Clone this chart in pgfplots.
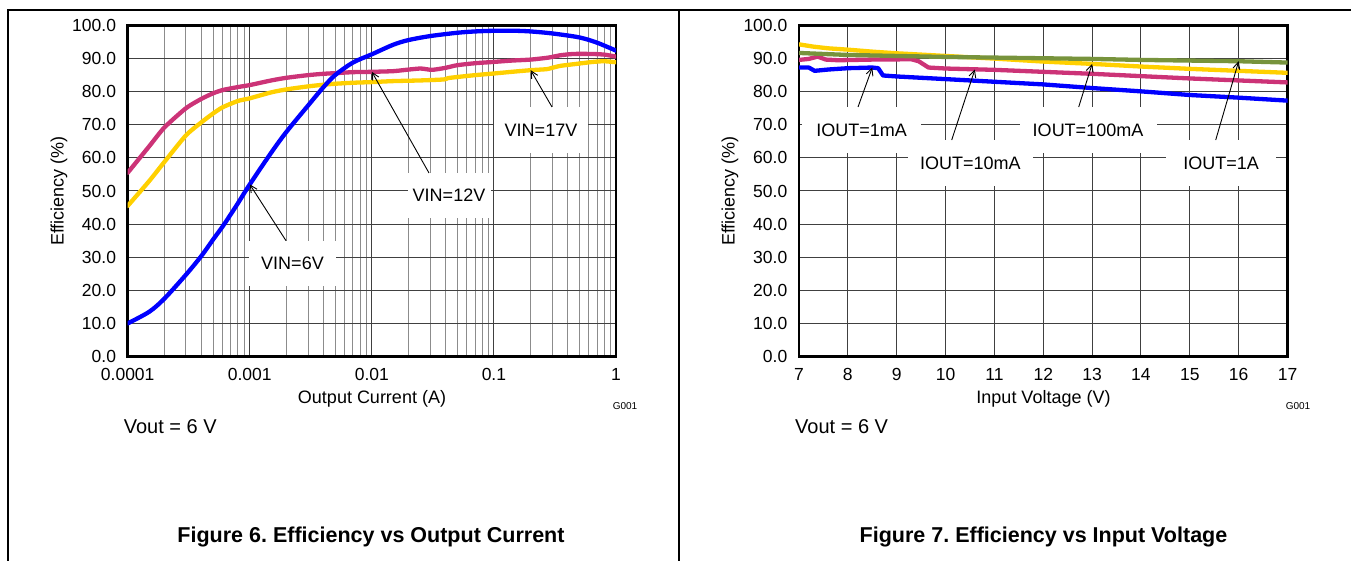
\documentclass[border=0pt]{standalone}
\usepackage{pgfplots}
\pgfplotsset{compat=1.18}
\usepackage{fontspec}
\setmainfont{Liberation Sans}
\usetikzlibrary{arrows.meta}
\frenchspacing

\definecolor{vblue}{RGB}{0,0,255}
\definecolor{vmag}{RGB}{204,51,119}
\definecolor{vyel}{RGB}{255,208,0}
\definecolor{vgrn}{RGB}{119,147,60}
\definecolor{gmaj}{RGB}{64,64,64}
\definecolor{gmin}{RGB}{140,140,140}

\newcommand{\lblfont}{\fontsize{18}{21}\selectfont}
\newcommand{\tckfont}{\fontsize{17.5}{20}\selectfont}

\pgfplotsset{
  eff/.style={
    scale only axis, anchor=south west,
    height=331pt,
    ymin=0, ymax=100, ytick={0,10,...,100},
    grid=both,
    major grid style={draw=gmaj, line width=1pt},
    minor grid style={draw=gmin, line width=1pt},
    axis line style={line width=2.6pt},
    major tick length=0pt, minor tick length=0pt,
    tick label style={font=\tckfont},
    /pgf/number format/assume math mode=true,
    yticklabel style={/pgf/number format/fixed, /pgf/number format/fixed zerofill,
      /pgf/number format/precision=1, anchor=east, inner sep=0pt, xshift=-11.5pt},
    xticklabel style={anchor=center, inner sep=0pt, text height=12.5pt,
      text depth=0pt, yshift=-17.5pt},
  },
  curve/.style={line width=4.3pt, line join=round, line cap=round},
}
\tikzset{
  note/.style={fill=white, inner sep=0pt, font=\lblfont},
  pointer/.style={line width=0.9pt, -{Straight Barb[length=7pt,width=7pt]}},
}

\begin{document}
\begin{tikzpicture}[x=1pt,y=1pt]
\useasboundingbox (0,0) rectangle (1351,561);

% ---------- Efficiency vs output current ----------
\begin{axis}[eff, at={(127.7pt,204.5pt)}, width=488.3pt,
  xmode=log, xmin=1e-4, xmax=1,
  xtick={1e-4,1e-3,1e-2,1e-1,1}, xticklabels={0.0001,0.001,0.01,0.1,1},
  minor xtick={2e-4,3e-4,4e-4,5e-4,6e-4,7e-4,8e-4,9e-4,
               2e-3,3e-3,4e-3,5e-3,6e-3,7e-3,8e-3,9e-3,
               2e-2,3e-2,4e-2,5e-2,6e-2,7e-2,8e-2,9e-2,
               0.2,0.3,0.4,0.5,0.6,0.7,0.8,0.9}]
% VIN = 12 V
\addplot[curve, vmag, smooth, tension=0.4] table {
1e-4 55.5
1.5e-4 63.5
2e-4 69.2
3e-4 75.0
4e-4 77.8
5e-4 79.5
6e-4 80.5
8e-4 81.4
1e-3 82.0
1.5e-3 83.4
2e-3 84.2
3e-3 85.0
4e-3 85.4
5e-3 85.6
7e-3 85.9
1e-2 86.0
1.5e-2 86.2
1.8e-2 86.5
2.5e-2 87.0
3.1e-2 86.6
4e-2 87.2
5e-2 88.0
7e-2 88.6
0.1 89.0
0.14 89.4
0.2 89.7
0.28 90.3
0.35 91.0
0.45 91.4
0.63 91.4
0.8 91.2
1 90.6
};
% VIN = 17 V
\addplot[curve, vyel, smooth, tension=0.4] table {
1e-4 45.5
1.5e-4 53.0
2e-4 58.8
3e-4 66.8
4e-4 70.7
5e-4 73.4
6e-4 75.3
8e-4 77.2
1e-3 78.0
1.5e-3 79.8
2e-3 80.7
3e-3 81.6
4e-3 82.1
5e-3 82.4
7e-3 82.7
1e-2 82.9
1.5e-2 83.2
2.5e-2 83.4
3.9e-2 83.7
4.2e-2 84.1
5.2e-2 84.5
7e-2 85.0
0.1 85.5
0.14 86.0
0.2 86.5
0.27 86.8
0.3 87.2
0.35 87.8
0.45 88.3
0.65 89.0
0.8 89.2
1 88.9
};
% VIN = 6 V
\addplot[curve, vblue, smooth, tension=0.5] table {
1e-4 10.0
1.5e-4 13.5
2e-4 17.5
3e-4 24.7
4e-4 30.3
5e-4 35.3
6e-4 39.3
7e-4 43.0
8e-4 46.3
1e-3 52.0
1.5e-3 61.6
2e-3 67.9
3e-3 75.8
4e-3 81.3
5e-3 85.0
7e-3 88.8
1e-2 91.3
1.5e-2 94.2
2e-2 95.6
3e-2 96.8
5e-2 97.8
7e-2 98.2
0.1 98.4
0.15 98.4
0.2 98.2
0.3 97.6
0.5 96.4
0.7 94.8
1 92.4
};
\coordinate (p17) at (axis cs:0.2,86.5);
\coordinate (p12) at (axis cs:0.01,86.0);
\coordinate (p6) at (axis cs:0.001,52.0);
\end{axis}

% ---------- Efficiency vs input voltage ----------
\begin{axis}[eff, at={(799pt,204.5pt)}, width=488.5pt,
  xmin=7, xmax=17, xtick={7,8,...,17}]
% IOUT = 1 mA
\addplot[curve, vblue] table {
7 87.3
7.2 87.3
7.32 86.3
7.6 86.7
8 87.1
8.5 87.3
8.62 87.1
8.72 84.9
9 84.6
10 83.8
11 83.0
12 82.2
13 81.1
14 80.1
15 79.0
16 78.2
17 77.3
};
% IOUT = 10 mA
\addplot[curve, vmag] table {
7 89.6
7.2 89.9
7.38 90.6
7.55 89.7
7.8 89.5
8.5 89.7
9.3 89.8
9.45 89.2
9.65 87.3
10 87.0
11 86.6
12 86.0
13 85.4
14 84.7
15 84.0
16 83.4
17 82.8
};
% IOUT = 100 mA
\addplot[curve, vyel] table {
7 94.3
7.3 93.6
7.6 93.1
8 92.7
8.5 92.1
9 91.6
9.5 91.2
10 90.8
11 90.0
12 89.1
13 88.4
14 87.6
15 86.9
16 86.3
17 85.7
};
% IOUT = 1 A
\addplot[curve, vgrn] table {
7 91.7
8 91.1
9 90.8
10 90.5
11 90.3
12 90.1
13 89.9
14 89.6
15 89.4
16 89.2
17 88.8
};
\coordinate (q1m) at (axis cs:8.5,87.3);
\coordinate (q10m) at (axis cs:10.6,86.7);
\coordinate (q100m) at (axis cs:13,88.4);
\coordinate (q1A) at (axis cs:16,89.2);
\end{axis}

% curve callouts
\node[note, minimum width=94pt, minimum height=46pt] at (541,431) {VIN=17V};
\draw[pointer] (552,454) -- (p17);
\node[note, minimum width=83pt, minimum height=45pt] at (449,365.5) {VIN=12V};
\draw[pointer] (429,388) -- (p12);
\node[note, minimum width=87pt, minimum height=45pt] at (292.5,297.7) {VIN=6V};
\draw[pointer] (286,320.3) -- (p6);

\node[note, minimum width=119pt, minimum height=46pt] at (861.7,431) {IOUT=1mA};
\draw[pointer] (858,454) -- (q1m);
\node[note, minimum width=125pt, minimum height=46pt] at (970.3,398) {IOUT=10mA};
\draw[pointer] (951.7,421) -- (q10m);
\node[note, minimum width=137pt, minimum height=46pt] at (1088,431) {IOUT=100mA};
\draw[pointer] (1078.7,454) -- (q100m);
\node[note, minimum width=110pt, minimum height=46pt] at (1221,398) {IOUT=1A};
\draw[pointer] (1215.7,421) -- (q1A);

% axis titles and captions
\node[font=\lblfont] at (372,162) {Output Current (A)};
\node[font=\lblfont, rotate=90] at (59,370) {Efficiency (\%)};
\node[font=\fontsize{10}{12}\selectfont] at (625,155) {G001};
\node[font=\fontsize{20}{24}\selectfont, anchor=west, inner sep=0pt] at (123.6,134) {Vout = 6 V};
\node[font=\fontsize{21.5}{25}\selectfont\bfseries] at (371,24.5) {Figure 6. Efficiency vs Output Current};

\node[font=\lblfont] at (1043.5,162) {Input Voltage (V)};
\node[font=\lblfont, rotate=90] at (730,370) {Efficiency (\%)};
\node[font=\fontsize{10}{12}\selectfont] at (1298,155) {G001};
\node[font=\fontsize{20}{24}\selectfont, anchor=west, inner sep=0pt] at (795,134) {Vout = 6 V};
\node[font=\fontsize{21.5}{25}\selectfont\bfseries] at (1043.5,24.5) {Figure 7. Efficiency vs Input Voltage};

% page frame
\draw[line width=1.2pt] (8,0) -- (8,551) -- (1351,551);
\draw[line width=1.2pt] (679,0) -- (679,551);
\end{tikzpicture}
\end{document}
